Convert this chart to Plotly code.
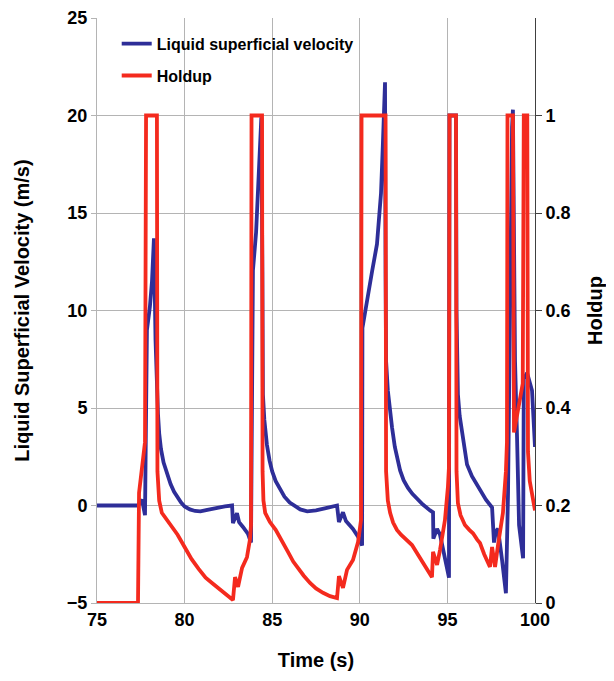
import plotly.graph_objects as go

# Liquid superficial velocity (m/s) vs time (s)
time_v = [75.0, 77.34, 77.57, 77.74, 77.85, 78.02, 78.14, 78.20, 78.25, 78.34, 78.42,
          78.48, 78.55, 78.65, 78.80, 79.00, 79.20, 79.40, 79.60, 79.80, 80.00, 80.30, 80.60,
          80.90, 81.30, 81.80, 82.30, 82.71, 82.76, 82.99, 83.11, 83.33, 83.62,
          83.79, 83.90, 84.08, 84.19, 84.30, 84.38, 84.44,
          84.47, 84.55, 84.70, 84.85, 85.00, 85.20, 85.45, 85.70, 86.00, 86.30, 86.60, 87.00,
          87.50, 88.00, 88.40, 88.70, 88.81, 89.04, 89.21, 89.61, 89.90, 90.13,
          90.15, 90.40, 90.70, 90.98, 91.21, 91.32, 91.38, 91.44, 91.47,
          91.50, 91.60, 91.72, 91.84, 92.00, 92.15, 92.30, 92.50, 92.75, 93.00, 93.30, 93.60,
          94.01, 94.18, 94.20, 94.41, 94.58, 94.86, 95.09,
          95.12, 95.49, 95.52,
          95.60, 95.70, 95.83, 96.00, 96.12, 96.40, 96.86, 97.20, 97.55, 97.60,
          97.66, 97.77, 97.89, 98.12, 98.34,
          98.46, 98.57, 98.69, 98.74, 98.86, 98.97, 99.09, 99.32, 99.36, 99.55, 99.65, 99.83, 100.0]
velocity = [0.0, 0.0, 0.3, -0.5, 9.0, 10.2, 11.5, 12.9, 13.7, 8.5, 5.3,
            4.7, 3.7, 2.9, 2.2, 1.6, 1.1, 0.7, 0.4, 0.15, -0.05, -0.2, -0.28,
            -0.3, -0.22, -0.12, -0.05, 0.0, -0.9, -0.4, -0.85, -1.1, -1.45,
            -1.9, 12.05, 14.0, 16.0, 18.0, 19.9, 12.0,
            5.7, 4.4, 3.1, 2.3, 1.75, 1.25, 0.8, 0.45, 0.15, -0.05, -0.2, -0.3,
            -0.25, -0.15, -0.05, 0.0, -0.85, -0.35, -0.8, -1.2, -1.6, -2.05,
            9.1, 10.3, 12.0, 13.4, 16.0, 18.6, 19.9, 21.7, 12.0,
            7.4, 5.9, 4.8, 4.0, 3.0, 2.3, 1.8, 1.3, 0.9, 0.6, 0.3, 0.05,
            -0.25, -0.35, -1.7, -1.2, -1.5, -2.7, -3.7,
            20.0, 20.0, 10.0,
            5.7, 4.6, 3.8, 2.7, 2.1, 1.5, 0.77, 0.3, -0.1, -1.0,
            -1.9, -1.3, -1.2, -2.8, -4.5,
            0.6, 10.9, 19.4, 20.3, 7.4, 3.7, -1.0, -2.7, 6.5, 6.8, 6.4, 5.9, 3.0]

# Holdup (-) vs time (s)
time_h = [75.0, 77.34, 77.40, 77.74, 77.80, 78.42, 78.45,
          78.55, 78.70, 79.00, 79.30, 79.60, 80.00, 80.40, 80.80, 81.20, 81.60, 82.00, 82.40,
          82.76, 82.88, 83.05, 83.28, 83.56, 83.73, 83.79, 83.82, 84.42, 84.45,
          84.50, 84.60, 84.87, 85.20, 85.45, 85.70, 85.90, 86.20, 86.42, 86.80, 87.16, 87.50,
          87.90, 88.30, 88.70, 88.81, 89.04, 89.27, 89.61,
          89.90, 90.07, 90.10, 91.47, 91.50,
          91.60, 91.73, 91.90, 92.12, 92.35, 92.58, 92.80, 92.98, 93.20, 93.44, 93.80, 94.12,
          94.18, 94.41, 94.58, 94.86, 95.03, 95.09, 95.12, 95.49, 95.52,
          95.60, 95.75, 96.00, 96.25, 96.46, 96.70, 96.86, 97.10, 97.43,
          97.55, 97.72, 97.89, 98.17, 98.34, 98.40, 98.43, 98.74, 98.80, 99.14, 99.30,
          99.36, 99.56, 99.60, 99.70, 100.0]
holdup = [0.0, 0.0, 0.226, 0.33, 1.0, 1.0, 0.27,
          0.21, 0.185, 0.17, 0.158, 0.14, 0.115, 0.09, 0.07, 0.052, 0.04, 0.028, 0.018,
          0.006, 0.053, 0.033, 0.072, 0.094, 0.13, 0.16, 1.0, 1.0, 0.27,
          0.21, 0.185, 0.166, 0.15, 0.135, 0.118, 0.105, 0.085, 0.074, 0.056, 0.041, 0.03,
          0.021, 0.014, 0.01, 0.055, 0.031, 0.068, 0.088,
          0.125, 0.17, 1.0, 1.0, 0.27,
          0.21, 0.185, 0.165, 0.15, 0.14, 0.133, 0.126, 0.119, 0.106, 0.092, 0.072, 0.053,
          0.105, 0.078, 0.109, 0.17, 0.238, 0.28, 1.0, 1.0, 0.27,
          0.205, 0.18, 0.16, 0.15, 0.143, 0.13, 0.123, 0.1, 0.074,
          0.115, 0.074, 0.119, 0.185, 0.27, 0.33, 1.0, 1.0, 0.35, 0.42, 0.45,
          1.0, 1.0, 0.31, 0.25, 0.19]

x_ticks = [75, 80, 85, 90, 95, 100]
y_ticks = [-5, 0, 5, 10, 15, 20, 25]
y2_ticks = [0, 0.2, 0.4, 0.6, 0.8, 1.0]
y2_labels = ["0", "0.2", "0.4", "0.6", "0.8", "1"]

BLUE = "#2E2E98"
RED = "#F42A1E"
FONT = "Liberation Sans, Arial, sans-serif"

fig = go.Figure()
fig.add_trace(go.Scatter(x=time_v, y=velocity, mode="lines", name="Liquid superficial velocity",
                         line=dict(color=BLUE, width=3.8), legendgroup="a"))
fig.add_trace(go.Scatter(x=time_h, y=holdup, mode="lines", name="Holdup", yaxis="y2",
                         line=dict(color=RED, width=3.8), legendgroup="b"))

fig.update_layout(
    width=606, height=673,
    margin=dict(l=89, r=79, t=10, b=78),
    paper_bgcolor="white", plot_bgcolor="white",
    font=dict(family=FONT, size=18, color="black", weight="bold"),
    showlegend=True,
    legend=dict(x=0.045, y=0.985, xanchor="left", yanchor="top", bgcolor="rgba(0,0,0,0)",
                font=dict(size=16, family=FONT, weight="bold"), traceorder="grouped",
                tracegroupgap=8, itemwidth=30),
    hovermode=False,
    xaxis=dict(range=[75, 100], tickvals=x_ticks, showgrid=True, gridcolor="#B4B4B4", gridwidth=1,
               showline=True, linecolor="#B4B4B4", linewidth=1, ticks="", zeroline=False,
               automargin=False,
               tickfont=dict(size=18, family=FONT, weight="bold"),
               title=dict(text="Time (s)", font=dict(size=20, family=FONT, weight="bold"), standoff=24)),
    yaxis=dict(range=[-5, 25], tickvals=y_ticks, showgrid=False, zeroline=False,
               showline=True, linecolor="#B4B4B4", linewidth=1, ticks="outside", ticklen=5,
               tickcolor="#B4B4B4", automargin=False,
               tickfont=dict(size=18, family=FONT, weight="bold"),
               title=dict(text="Liquid Superficial Velocity (m/s)",
                          font=dict(size=20, family=FONT, weight="bold"), standoff=31)),
    yaxis2=dict(range=[0, 1.2], overlaying="y", side="right", tickvals=y2_ticks, ticktext=y2_labels,
                showgrid=True, gridcolor="#B4B4B4", gridwidth=1, zeroline=False,
                showline=True, linecolor="#404040", linewidth=1, ticks="outside", ticklen=6,
                tickcolor="#404040", automargin=False,
                tickfont=dict(size=18, family=FONT, weight="bold"),
                title=dict(text="Holdup", font=dict(size=20, family=FONT, weight="bold"), standoff=18)),
)

fig.write_html("out.html")
